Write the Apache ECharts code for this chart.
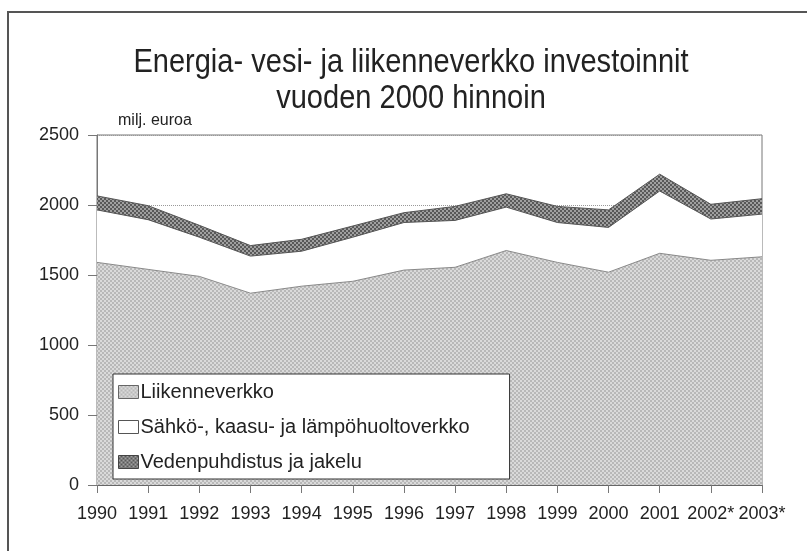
<!DOCTYPE html>
<html>
<head>
<meta charset="utf-8">
<script src="https://cdn.jsdelivr.net/npm/echarts@6/dist/echarts.min.js"></script>
<style>
  html, body { margin: 0; padding: 0; background: #fff; }
  #main { width: 807px; height: 551px; }
</style>
</head>
<body>
<div id="main"></div>
<script>
// vuodet (ennusteet merkitty tähdellä)
const years = ['1990', '1991', '1992', '1993', '1994', '1995', '1996', '1997', '1998', '1999', '2000', '2001', '2002*', '2003*'];
// milj. euroa, vuoden 2000 hinnoin (kasautuvat)
const liikenne = [1590, 1540, 1490, 1370, 1420, 1455, 1535, 1555, 1675, 1590, 1520, 1655, 1605, 1630];
const sahko = [375, 355, 280, 265, 250, 315, 340, 335, 310, 285, 320, 445, 295, 305];
const vesi = [100, 100, 85, 75, 85, 80, 70, 100, 95, 115, 125, 120, 105, 110];
const yTicks = [0, 500, 1000, 1500, 2000, 2500];
const titleLines = ['Energia- vesi- ja liikenneverkko investoinnit', 'vuoden 2000 hinnoin'];

const FONT = '"Liberation Sans", Arial, Helvetica, sans-serif';

// rasterikuvio kuten painetussa kuvassa
function dither(c1, c2) {
  const cv = document.createElement('canvas');
  cv.width = 4;
  cv.height = 4;
  const ctx = cv.getContext('2d');
  ctx.fillStyle = c1;
  ctx.fillRect(0, 0, 4, 4);
  ctx.fillStyle = c2;
  ctx.fillRect(0, 0, 2, 2);
  ctx.fillRect(2, 2, 2, 2);
  return { image: cv, repeat: 'repeat' };
}

const lightFill = dither('#b8b8b8', '#dadada');
const darkFill = dither('#595959', '#a0a0a0');

const chart = echarts.init(document.getElementById('main'), null, { renderer: 'canvas' });

// otsikko kapeana tekstinä (kapeaa fonttia ei ole asennettu)
const titleGraphics = titleLines.map((t, i) => ({
  type: 'text',
  x: 411,
  y: 63 + i * 36,
  scaleX: 0.88,
  silent: true,
  style: {
    text: t,
    fontFamily: FONT,
    fontSize: 33,
    fill: '#222',
    align: 'center',
    verticalAlign: 'middle'
  }
}));

const option = {
  animation: false,
  backgroundColor: '#fff',
  graphic: [{
    type: 'rect',
    shape: { x: 8, y: 12, width: 900, height: 700 },
    style: { fill: 'none', stroke: '#555', lineWidth: 2 },
    silent: true
  }].concat(titleGraphics),
  legend: {
    orient: 'vertical',
    left: 113,
    top: 374,
    icon: 'rect',
    itemWidth: 20,
    itemHeight: 13,
    itemGap: 15,
    padding: [8, 40, 7, 5],
    backgroundColor: '#fff',
    borderColor: '#333',
    borderWidth: 1,
    textStyle: { fontFamily: FONT, fontSize: 20, color: '#222', padding: [0, 0, 0, -3] },
    data: [
      { name: 'Liikenneverkko', itemStyle: { color: lightFill, borderColor: '#666', borderWidth: 1 } },
      { name: 'Sähkö-, kaasu- ja lämpöhuoltoverkko', itemStyle: { color: '#fff', borderColor: '#555', borderWidth: 1 } },
      { name: 'Vedenpuhdistus ja jakelu', itemStyle: { color: darkFill, borderColor: '#444', borderWidth: 1 } }
    ]
  },
  grid: {
    left: 97,
    right: 45,
    top: 135,
    bottom: 66,
    show: true,
    borderColor: '#777',
    borderWidth: 1,
    containLabel: false
  },
  xAxis: {
    type: 'category',
    data: years,
    boundaryGap: false,
    axisLine: { lineStyle: { color: '#666' } },
    axisTick: { alignWithLabel: true, length: 8, lineStyle: { color: '#777' } },
    axisLabel: { fontFamily: FONT, fontSize: 18, color: '#222', margin: 20, interval: 0 }
  },
  yAxis: {
    type: 'value',
    min: yTicks[0],
    max: yTicks[yTicks.length - 1],
    interval: 500,
    name: 'milj. euroa',
    nameLocation: 'end',
    nameGap: 6,
    nameTextStyle: { fontFamily: FONT, fontSize: 16, color: '#222', align: 'left', padding: [0, 0, 0, 21] },
    axisLine: { show: true, lineStyle: { color: '#777' } },
    axisTick: { show: true, length: 9, lineStyle: { color: '#777' } },
    axisLabel: {
      fontFamily: FONT,
      fontSize: 18,
      color: '#222',
      margin: 18,
      formatter: v => String(v)
    },
    splitLine: { show: true, lineStyle: { color: '#999', type: 'dotted', width: 1 } }
  },
  series: [
    {
      name: 'Liikenneverkko',
      type: 'line',
      stack: 'total',
      data: liikenne,
      symbol: 'none',
      lineStyle: { color: '#888', width: 1 },
      itemStyle: { color: lightFill },
      areaStyle: { color: lightFill, opacity: 1 }
    },
    {
      name: 'Sähkö-, kaasu- ja lämpöhuoltoverkko',
      type: 'line',
      stack: 'total',
      data: sahko,
      symbol: 'none',
      lineStyle: { color: '#555', width: 1 },
      itemStyle: { color: '#fff' },
      areaStyle: { color: '#fff', opacity: 1 }
    },
    {
      name: 'Vedenpuhdistus ja jakelu',
      type: 'line',
      stack: 'total',
      data: vesi,
      symbol: 'none',
      lineStyle: { color: '#555', width: 1 },
      itemStyle: { color: darkFill },
      areaStyle: { color: darkFill, opacity: 1 }
    }
  ]
};

chart.setOption(option);
</script>
</body>
</html>
